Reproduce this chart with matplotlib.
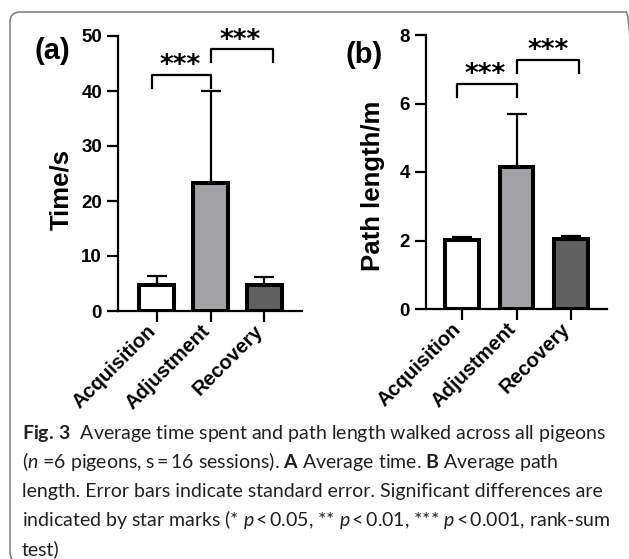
import numpy as np
import matplotlib.pyplot as plt
from matplotlib.patches import FancyBboxPatch

categories = ["Acquisition", "Adjustment", "Recovery"]
time_mean = [4.8, 23.3, 4.8]
time_se = [1.5, 16.7, 1.3]
path_mean = [2.02, 4.15, 2.03]
path_se = [0.08, 1.55, 0.10]
bar_colors = ["#ffffff", "#a2a2a6", "#606060"]

caption_lines = [
    r"$\mathbf{Fig.\,3}$  Average time spent and path length walked across all pigeons",
    "($\\mathit{n}$ =6 pigeons, s\u2009=\u200916 sessions). $\\mathbf{A}$ Average time. $\\mathbf{B}$ Average path",
    "length. Error bars indicate standard error. Significant differences are",
    "indicated by star marks (* $\\mathit{p}$\u2009<\u20090.05, ** $\\mathit{p}$\u2009<\u20090.01, "
    "*** $\\mathit{p}$\u2009<\u20090.001, rank-sum",
    "test)",
]

plt.rcParams["font.family"] = "Liberation Sans"
plt.rcParams["font.weight"] = "bold"
plt.rcParams["mathtext.fontset"] = "custom"
plt.rcParams["mathtext.rm"] = "Lato:weight=normal"
plt.rcParams["mathtext.it"] = "Lato:style=italic:weight=normal"
plt.rcParams["mathtext.bf"] = "Lato:weight=bold"

W, H = 629, 559
fig = plt.figure(figsize=(W / 100, H / 100), dpi=100)


def panel(rect, means, ses, ylim, yticks, xlim, width, brackets, stars):
    ax = fig.add_axes(rect)
    x = np.arange(len(categories))
    ax.errorbar(x, means, yerr=[np.zeros(len(x)), ses], fmt="none", ecolor="black",
                elinewidth=1.6, capsize=7.5, capthick=1.6, zorder=1)
    ax.bar(x, means, width=width, color=bar_colors, edgecolor="black", linewidth=2.9, zorder=2)
    ax.set_xlim(*xlim)
    ax.set_ylim(*ylim)
    ax.set_yticks(yticks)
    ax.set_xticks(x)
    ax.set_xticklabels(categories, rotation=45, ha="right", va="baseline",
                       rotation_mode="anchor", fontsize=14.5)
    ax.tick_params(axis="y", labelsize=13.5, width=1.6, length=8, pad=3.5)
    ax.tick_params(axis="x", width=1.6, length=8, pad=7)
    for s in ["top", "right"]:
        ax.spines[s].set_visible(False)
    for s in ["left", "bottom"]:
        ax.spines[s].set_linewidth(1.6)
    for (x0, x1, ylow, yhigh) in brackets:
        ax.plot([x0, x0, x1, x1], [ylow, yhigh, yhigh, ylow], color="black", lw=1.6, clip_on=False)
    for (sx, sy) in stars:
        ax.text(sx, sy, "***", ha="center", va="baseline", fontsize=19,
                family="DejaVu Sans", weight="bold", clip_on=False)
    return ax


ax1 = panel([118 / W, 1 - 311 / H, 184 / W, 275 / H], time_mean, time_se, (0, 50), [0, 10, 20, 30, 40, 50],
            (-0.72, 2.7), 0.65,
            [(-0.09, 1.0, 40.5, 42.9), (1.0, 2.17, 45.3, 47.6)],
            [(0.44, 43.3), (1.55, 47.9)])
ax2 = panel([426 / W, 1 - 309 / H, 181 / W, 274 / H], path_mean, path_se, (0, 8), [0, 2, 4, 6, 8],
            (-0.66, 2.66), 0.62,
            [(-0.09, 1.0, 6.19, 6.57), (1.0, 2.15, 6.89, 7.27)],
            [(0.42, 6.63), (1.58, 7.33)])

fig.text(35 / W, 1 - 51 / H, "(a)", fontsize=21, ha="left", va="center")
fig.text(345 / W, 1 - 55 / H, "(b)", fontsize=21, ha="left", va="center")
fig.text(61 / W, 1 - 189 / H, "Time/s", fontsize=18.5, rotation=90, ha="center", va="center")
fig.text(373 / W, 1 - 186 / H, "Path length/m", fontsize=18.5, rotation=90, ha="center", va="center")

baselines = [439, 468, 497, 526, 555]
for line, yb in zip(caption_lines, baselines):
    fig.text(22 / W, 1 - yb / H, line, fontsize=14, family=["Lato", "DejaVu Sans"], weight="normal",
             ha="left", va="baseline", color="#231f20")

box = FancyBboxPatch((0.10, -0.03), 6.26, 5.50, boxstyle="round,pad=0,rounding_size=0.10",
                     transform=fig.dpi_scale_trans, facecolor="none", edgecolor="#7a7a7a",
                     lw=1.1, zorder=-1)
fig.patches.append(box)

fig.savefig("out.png", dpi=100)
